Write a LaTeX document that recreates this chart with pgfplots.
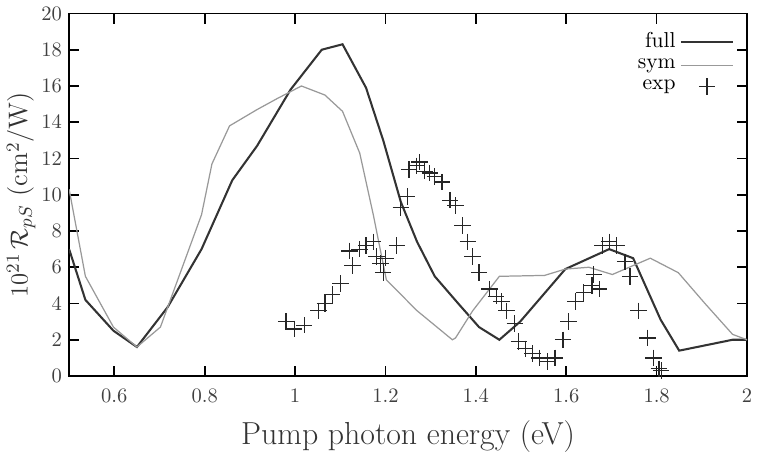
\documentclass[border=0pt]{standalone}
\usepackage{pgfplots}
\pgfplotsset{compat=1.18}
\begin{document}
\begin{tikzpicture}
\begin{axis}[
  scale only axis,
  width=330pt, height=176.5pt,
  xmin=0.5, xmax=2, ymin=0, ymax=20,
  xtick={0.6,0.8,1,1.2,1.4,1.6,1.8,2},
  ytick={0,2,...,20},
  tick align=inside,
  major tick length=5pt,
  tick style={black, line width=0.8pt},
  axis line style={black, line width=0.9pt},
  ticklabel style={font=\fontsize{10}{12}\selectfont, color=black!75},
  xticklabel style={yshift=-3pt},
  xlabel={Pump photon energy (eV)},
  xlabel style={font=\fontsize{15.5}{18}\selectfont, color=black!80, yshift=-2pt},
  ylabel={$10^{21}\,\mathcal{R}_{pS}$ (cm$^2$/W)},
  ylabel style={font=\fontsize{13}{15}\selectfont, color=black!80, yshift=-4pt},
  legend style={draw=none, fill=none, at={(0.985,0.965)}, anchor=north east,
    font=\fontsize{10.5}{10.5}\selectfont, row sep=0pt, inner sep=1pt},
  legend cell align=right,
  legend plot pos=right,
  legend image code/.code={\draw[mark repeat=2,mark phase=2,#1] plot coordinates {(0cm,0cm)(0.45cm,0cm)(0.9cm,0cm)};},
]
\addplot[black!80, line width=1pt] coordinates {
(0.5,7.0)(0.536,4.2)(0.598,2.5)(0.65,1.6)(0.718,3.8)(0.793,7.0)(0.861,10.8)
(0.916,12.7)(0.99,15.8)(1.059,18.0)(1.105,18.3)(1.157,15.9)(1.195,13.0)
(1.234,9.6)(1.27,7.4)(1.309,5.5)(1.361,4.0)(1.407,2.7)(1.452,2.0)(1.498,3.0)
(1.598,5.9)(1.695,7.0)(1.748,6.5)(1.809,3.1)(1.85,1.4)(1.968,2.0)(2.0,2.0)
};
\addlegendentry{full}
\addplot[black!40, line width=0.6pt] coordinates {
(0.5,10.3)(0.536,5.5)(0.598,2.7)(0.65,1.6)(0.702,2.7)(0.793,8.9)(0.816,11.7)
(0.855,13.8)(0.916,14.7)(0.96,15.3)(1.014,16.0)(1.066,15.5)(1.105,14.6)
(1.143,12.3)(1.173,8.9)(1.202,5.3)(1.27,3.6)(1.348,2.0)(1.355,2.1)(1.393,3.6)
(1.452,5.5)(1.552,5.55)(1.598,5.9)(1.65,6.0)(1.702,5.6)(1.786,6.5)(1.848,5.7)
(1.907,4.0)(1.968,2.3)(2.0,2.0)
};
\addlegendentry{sym}
\addplot[only marks, mark=+, mark size=4pt, black!85, line width=0.6pt] coordinates {
(0.98,3.0)(0.998,2.6)(1.02,2.8)(1.052,3.6)(1.066,4.0)(1.082,4.5)(1.1,5.1)
(1.127,6.1)(1.12,6.9)(1.143,7.0)(1.157,7.2)(1.173,7.4)(1.18,6.6)(1.189,6.2)
(1.195,5.7)(1.2,6.5)(1.225,7.2)(1.234,9.3)(1.248,9.9)(1.252,11.4)(1.268,11.6)
(1.275,11.8)(1.286,11.3)(1.298,11.2)(1.309,11.0)(1.325,10.7)(1.343,9.7)
(1.355,9.4)(1.37,8.3)(1.382,7.4)(1.393,6.6)(1.407,5.7)(1.43,4.8)(1.445,4.4)
(1.457,4.1)(1.468,3.6)(1.486,2.9)(1.495,1.9)(1.509,1.5)(1.525,1.25)(1.541,1.0)
(1.559,0.8)(1.575,1.0)(1.593,2.0)(1.605,3.0)(1.62,4.1)(1.639,4.6)(1.657,5.0)
(1.661,5.6)(1.673,4.8)(1.68,7.2)(1.695,7.4)(1.711,7.2)(1.73,6.3)(1.741,5.5)
(1.76,3.6)(1.78,2.1)(1.793,1.0)(1.805,0.4)(1.81,0.3)
};
\addlegendentry{exp}
\end{axis}
\end{tikzpicture}
\end{document}
